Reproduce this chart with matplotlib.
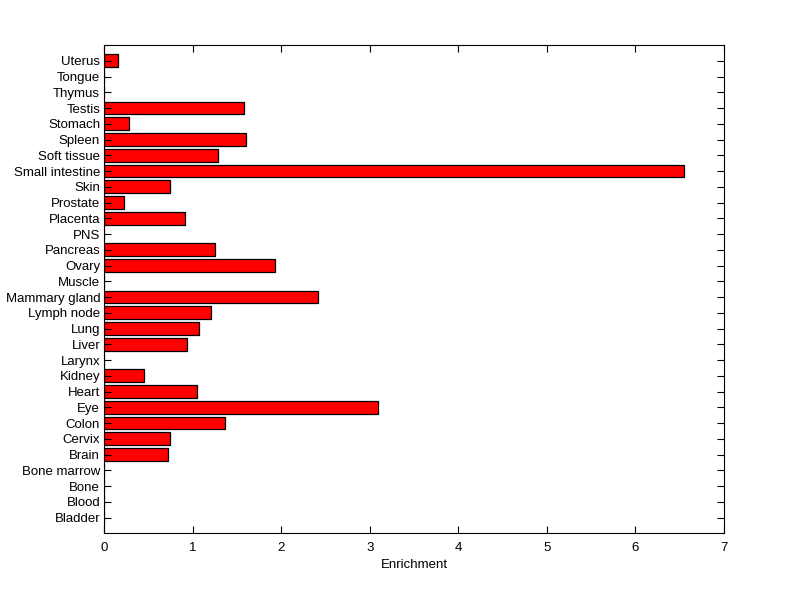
import matplotlib
matplotlib.use("Agg")
import matplotlib.pyplot as plt
import numpy as np

tissues = ["Bladder", "Blood", "Bone", "Bone marrow", "Brain", "Cervix", "Colon", "Eye",
           "Heart", "Kidney", "Larynx", "Liver", "Lung", "Lymph node", "Mammary gland",
           "Muscle", "Ovary", "Pancreas", "PNS", "Placenta", "Prostate", "Skin",
           "Small intestine", "Soft tissue", "Spleen", "Stomach", "Testis", "Thymus",
           "Tongue", "Uterus"]
enrichment = [0, 0, 0, 0, 0.716, 0.739, 1.360, 3.089,
              1.044, 0.445, 0, 0.931, 1.066, 1.202, 2.411,
              0, 1.925, 1.247, 0, 0.908, 0.226, 0.739,
              6.547, 1.288, 1.597, 0.283, 1.575, 0,
              0, 0.158]

plt.rcParams['font.family'] = ['Liberation Sans', 'DejaVu Sans']
plt.rcParams['font.size'] = 9.5

fig = plt.figure(figsize=(8.0, 5.99), dpi=100)
ax = fig.add_axes([104.3/800, 1 - 533.3/599, (723.8-104.3)/800, (533.3-45)/599])

pos = np.arange(1, len(tissues) + 1)
ax.barh(pos, enrichment, height=0.8, color='#ff0000', edgecolor='black', linewidth=0.9)

ax.set_xlim(0, 7)
ax.set_ylim(0, len(tissues) + 1)
ax.set_yticks(pos)
ax.set_yticklabels(tissues)
ax.set_xticks(range(0, 8))
ax.set_xlabel("Enrichment", labelpad=4)
ax.tick_params(direction='in', length=5, width=0.8, top=True, right=True)
ax.tick_params(axis='x', pad=6)
ax.tick_params(axis='y', pad=3)
for s in ax.spines.values():
    s.set_linewidth(0.8)

fig.savefig("out.png", dpi=100)
